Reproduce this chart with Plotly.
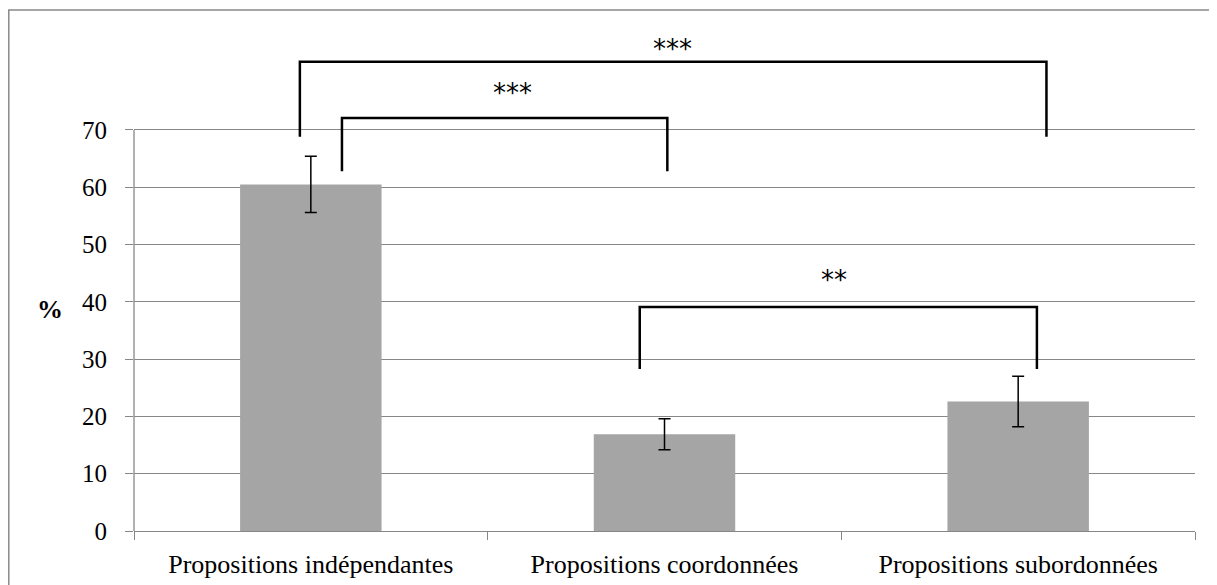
import plotly.graph_objects as go

# ---- data ----
categories = ["Propositions indépendantes", "Propositions coordonnées", "Propositions subordonnées"]
values = [60.5, 16.9, 22.6]
errors = [4.9, 2.7, 4.4]
y_ticks = [0, 10, 20, 30, 40, 50, 60, 70]

# significance brackets: left x, right x (category index), left foot, right foot, top, label
br_x0 = [-0.031, 0.088, 0.93]
br_x1 = [2.08, 1.008, 2.053]
br_foot0 = [68.8, 62.8, 28.3]
br_foot1 = [68.8, 62.8, 28.3]
br_top = [81.9, 72.1, 39.1]
br_label = ["***", "***", "**"]
br_label_x = [1.022, 0.569, 1.479]
br_label_y = [84.2, 76.5, 43.8]

GRID = "#878787"
FONT = "Liberation Serif"

# figure geometry (page has an 8px body margin)
W, H = 1209, 577
ML, MR, MT, MB = 126, 22, 12, 54
PW, PH = W - ML - MR, H - MT - MB


def px_x(fx):
    return (fx - ML) / PW


def px_y(fy):
    return (H - MB - fy) / PH


fig = go.Figure(
    go.Bar(
        x=categories,
        y=values,
        marker=dict(color="#A5A5A5", line=dict(width=0)),
        error_y=dict(type="data", array=errors, color="black", thickness=1.5, width=6),
        hoverinfo="skip",
    )
)

shapes = []
# y axis line (only up to 70)
shapes.append(dict(type="line", xref="paper", yref="y", x0=0, x1=0, y0=0, y1=y_ticks[-1],
                   line=dict(color=GRID, width=1.3)))
# outer chart border
shapes.append(dict(type="rect", xref="paper", yref="paper",
                   x0=px_x(0.8), x1=px_x(1207), y0=px_y(600), y1=px_y(2),
                   line=dict(color="#898989", width=1.5), fillcolor="rgba(0,0,0,0)"))
for a, b, f0, f1, t in zip(br_x0, br_x1, br_foot0, br_foot1, br_top):
    shapes.append(dict(type="path", xref="x", yref="y",
                       path=f"M {a} {f0} L {a} {t} L {b} {t} L {b} {f1}",
                       line=dict(color="black", width=2.5)))

annotations = []
for lx, ly, txt in zip(br_label_x, br_label_y, br_label):
    annotations.append(dict(x=lx, y=ly, xref="x", yref="y", text=txt, showarrow=False,
                            xanchor="center", yanchor="middle",
                            font=dict(family="DejaVu Sans", size=26, color="black")))
annotations.append(dict(x=px_x(42), y=38.6, xref="paper", yref="y", text="<b>%</b>",
                        showarrow=False, xanchor="center", yanchor="middle",
                        font=dict(family=FONT, size=26, color="black")))

fig.update_layout(
    width=W, height=H,
    margin=dict(l=ML, r=MR, t=MT, b=MB, autoexpand=False),
    plot_bgcolor="white", paper_bgcolor="white",
    bargap=0.6,
    showlegend=False,
    shapes=shapes,
    annotations=annotations,
    xaxis=dict(type="category", showline=True, linecolor=GRID, linewidth=1.3,
               ticks="outside", tickson="boundaries", ticklen=8, tickcolor=GRID, tickwidth=1.3,
               showgrid=False, ticklabelstandoff=10, automargin=False,
               tickfont=dict(family=FONT, size=26, color="black")),
    yaxis=dict(range=[0, 89.2], tickvals=y_ticks, showgrid=True, gridcolor=GRID, gridwidth=1.3,
               ticks="outside", ticklen=8, tickcolor=GRID, tickwidth=1.3,
               zeroline=False, showline=False, ticklabelstandoff=13, automargin=False,
               tickfont=dict(family=FONT, size=25, color="black")),
)

fig.write_html("out.html")
